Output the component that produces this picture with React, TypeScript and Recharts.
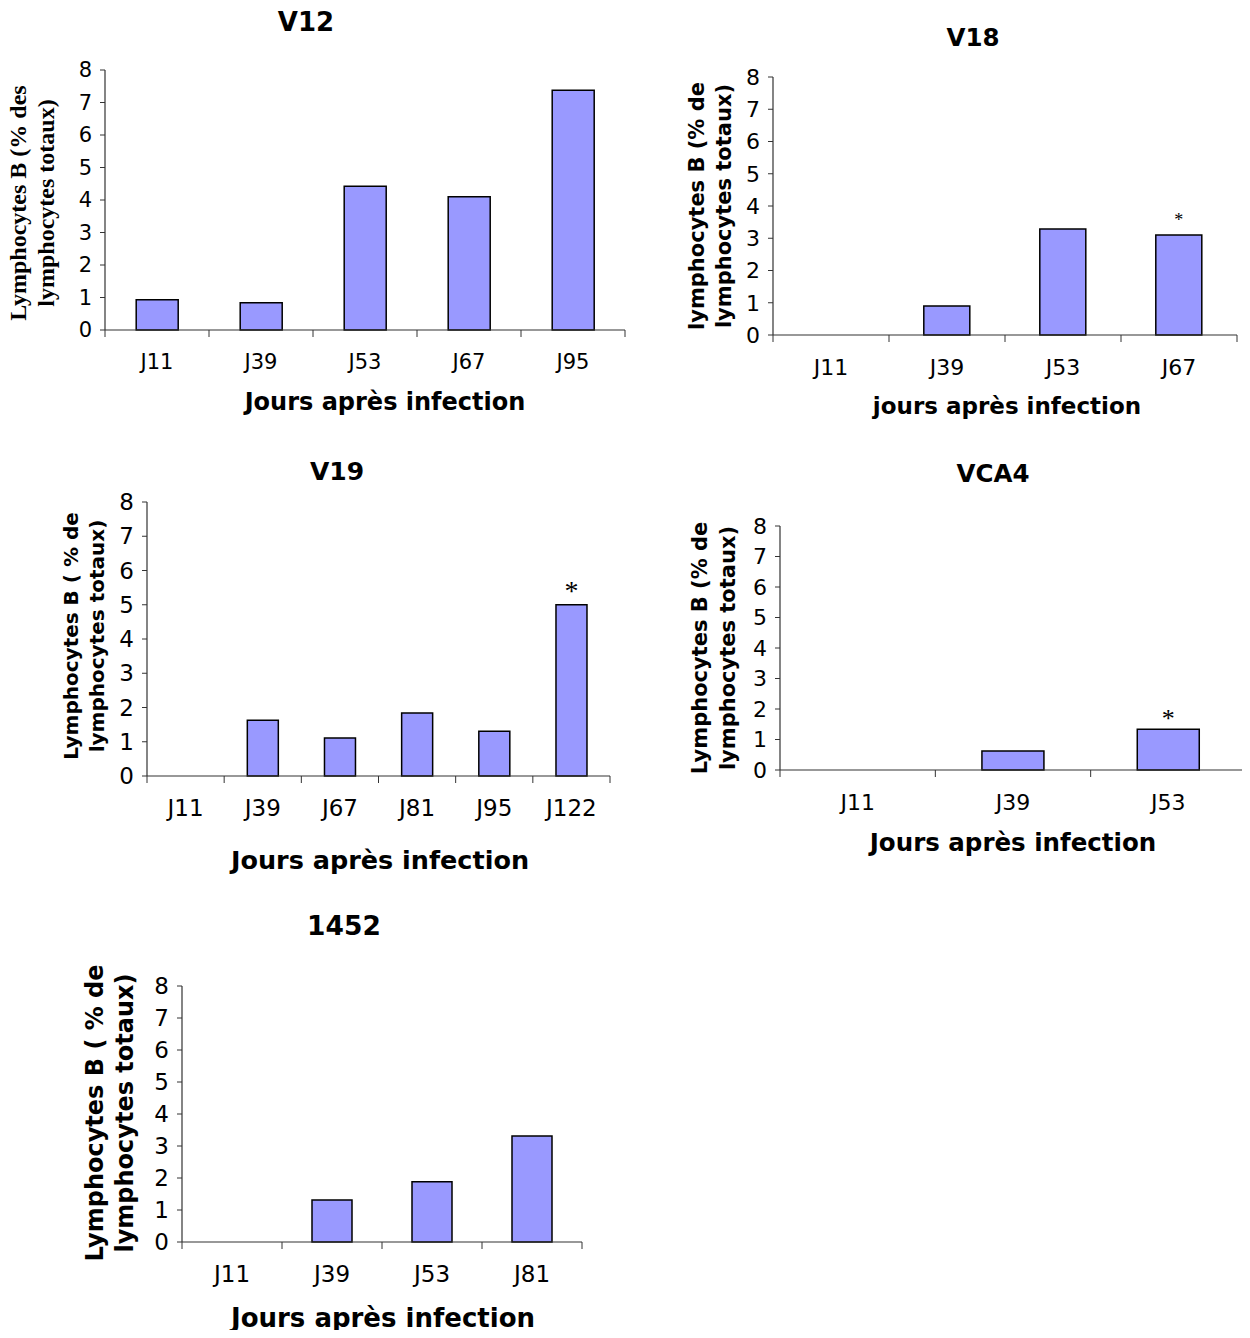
import React from 'react';
import { BarChart, Bar, XAxis, YAxis, LabelList } from 'recharts';

// ---- data ----
const v12Days = ['J11', 'J39', 'J53', 'J67', 'J95'];
const v12Values = [0.93, 0.84, 4.42, 4.1, 7.38];
const v12Marks = ['', '', '', '', ''];

const v18Days = ['J11', 'J39', 'J53', 'J67'];
const v18Values = [0, 0.9, 3.29, 3.1];
const v18Marks = ['', '', '', '*'];

const v19Days = ['J11', 'J39', 'J67', 'J81', 'J95', 'J122'];
const v19Values = [0, 1.63, 1.11, 1.84, 1.31, 5.0];
const v19Marks = ['', '', '', '', '', '*'];

const vca4Days = ['J11', 'J39', 'J53'];
const vca4Values = [0, 0.62, 1.34];
const vca4Marks = ['', '', '*'];

const s1452Days = ['J11', 'J39', 'J53', 'J81'];
const s1452Values = [0, 1.31, 1.88, 3.31];
const s1452Marks = ['', '', '', ''];

const yTicks = [0, 1, 2, 3, 4, 5, 6, 7, 8];

const SANS = '"DejaVu Sans", Verdana, sans-serif';
const SERIF = '"Liberation Serif", "Times New Roman", serif';
const AX = '#333';
const BAR_FILL = '#9999FF';

type Cfg = {
  title: string;
  days: string[];
  values: number[];
  marks: string[];
  l: number; t: number; r: number; b: number;
  titleX: number; titleY: number; titleSize: number;
  xTitle: string; xTitleX: number; xTitleY: number; xTitleSize: number;
  yLines: [string, string]; yX: [number, number]; yY: number; yFont: string; ySize: number;
  tickFont: number;
  markSize: number; markOffset: number;
};

const charts: Cfg[] = [
  {
    title: 'V12', days: v12Days, values: v12Values, marks: v12Marks,
    l: 105, t: 70, r: 625, b: 330,
    titleX: 306, titleY: 22, titleSize: 26,
    xTitle: 'Jours après infection', xTitleX: 385, xTitleY: 402, xTitleSize: 24,
    yLines: ['Lymphocytes B (% des', 'lymphocytes totaux)'], yX: [18, 46], yY: 203, yFont: SERIF, ySize: 24,
    tickFont: 21, markSize: 20, markOffset: 6,
  },
  {
    title: 'V18', days: v18Days, values: v18Values, marks: v18Marks,
    l: 773, t: 77, r: 1237, b: 335,
    titleX: 973, titleY: 38, titleSize: 24.5,
    xTitle: 'jours après infection', xTitleX: 1007, xTitleY: 406, xTitleSize: 23,
    yLines: ['lymphocytes B (% de', 'lymphocytes totaux)'], yX: [697, 724], yY: 206, yFont: SANS, ySize: 21,
    tickFont: 22, markSize: 18, markOffset: 9,
  },
  {
    title: 'V19', days: v19Days, values: v19Values, marks: v19Marks,
    l: 147, t: 502, r: 610, b: 776,
    titleX: 337, titleY: 471, titleSize: 25,
    xTitle: 'Jours après infection', xTitleX: 380, xTitleY: 861, xTitleSize: 25.5,
    yLines: ['Lymphocytes B ( % de', 'lymphocytes totaux)'], yX: [71, 97], yY: 636, yFont: SANS, ySize: 20,
    tickFont: 23, markSize: 28, markOffset: 5,
  },
  {
    title: 'VCA4', days: vca4Days, values: vca4Values, marks: vca4Marks,
    l: 780, t: 526, r: 1246, b: 770,
    titleX: 993, titleY: 474, titleSize: 24.5,
    xTitle: 'Jours après infection', xTitleX: 1013, xTitleY: 843, xTitleSize: 24.5,
    yLines: ['Lymphocytes B (% de', 'lymphocytes totaux)'], yX: [700, 728], yY: 648, yFont: SANS, ySize: 21,
    tickFont: 22, markSize: 26, markOffset: 2,
  },
  {
    title: '1452', days: s1452Days, values: s1452Values, marks: s1452Marks,
    l: 182, t: 986, r: 582, b: 1242,
    titleX: 344, titleY: 926, titleSize: 26.5,
    xTitle: 'Jours après infection', xTitleX: 383, xTitleY: 1318, xTitleSize: 26,
    yLines: ['Lymphocytes B ( % de', 'lymphocytes totaux)'], yX: [95, 125], yY: 1113, yFont: SANS, ySize: 24,
    tickFont: 23, markSize: 22, markOffset: 5,
  },
];

const centered: React.CSSProperties = {
  position: 'absolute',
  transform: 'translate(-50%, -50%)',
  whiteSpace: 'nowrap',
  lineHeight: 1,
  color: '#000',
};

function Panel({ c }: { c: Cfg }) {
  const yW = 70;
  const boxL = c.l - yW;
  const boxT = c.t - 14;
  const rightPad = 3;
  const W = c.r - boxL + rightPad;
  const H = c.b - boxT + 50;
  const n = c.days.length;
  const halfBand = (c.r - c.l) / n / 2;
  const axisY = c.b - boxT;
  const data = c.days.map((d, i) => ({ day: d, value: c.values[i], mark: c.marks[i] }));
  const hasMarks = c.marks.some((m) => m);

  // category label at the band centre, tick marks at the band boundaries (Excel style)
  const renderCatTick = (props: any) => {
    const { x, payload, index } = props;
    return (
      <g>
        <line x1={x - halfBand} x2={x - halfBand} y1={axisY} y2={axisY + 7} stroke={AX} strokeWidth={1} />
        {index === n - 1 && (
          <line x1={x + halfBand} x2={x + halfBand} y1={axisY} y2={axisY + 7} stroke={AX} strokeWidth={1} />
        )}
        <text
          x={x}
          y={axisY + 24}
          dy="0.71em"
          textAnchor="middle"
          fontFamily={SANS}
          fontSize={c.tickFont}
          fill="#000"
        >
          {payload.value}
        </text>
      </g>
    );
  };

  return (
    <>
      <div style={{ position: 'absolute', left: boxL, top: boxT }}>
        <BarChart
          width={W}
          height={H}
          data={data}
          margin={{ top: 14, right: rightPad, bottom: 0, left: 0 }}
          barCategoryGap="30%"
        >
          <XAxis
            dataKey="day"
            height={50}
            axisLine={{ stroke: AX, strokeWidth: 1.2 }}
            tickLine={false}
            interval={0}
            tick={renderCatTick}
          />
          <YAxis
            width={yW}
            domain={[0, 8]}
            ticks={yTicks}
            interval={0}
            tickSize={5}
            tickMargin={8}
            axisLine={{ stroke: AX, strokeWidth: 1.2 }}
            tickLine={{ stroke: AX, strokeWidth: 1 }}
            tick={{ fontFamily: SANS, fontSize: c.tickFont, fill: '#000' }}
          />
          <Bar dataKey="value" fill={BAR_FILL} stroke="#000" strokeWidth={1.5} isAnimationActive={false}>
            {hasMarks && (
              <LabelList
                dataKey="mark"
                position="top"
                offset={c.markOffset}
                style={{ fontFamily: SERIF, fontSize: c.markSize, fill: '#000' }}
              />
            )}
          </Bar>
        </BarChart>
      </div>
      <div style={{ ...centered, left: c.titleX, top: c.titleY, fontFamily: SANS, fontWeight: 'bold', fontSize: c.titleSize }}>
        {c.title}
      </div>
      <div style={{ ...centered, left: c.xTitleX, top: c.xTitleY, fontFamily: SANS, fontWeight: 'bold', fontSize: c.xTitleSize }}>
        {c.xTitle}
      </div>
      {c.yLines.map((line, i) => (
        <div
          key={i}
          style={{
            ...centered,
            left: c.yX[i],
            top: c.yY,
            transform: 'translate(-50%, -50%) rotate(-90deg)',
            fontFamily: c.yFont,
            fontWeight: 'bold',
            fontSize: c.ySize,
          }}
        >
          {line}
        </div>
      ))}
    </>
  );
}

export default function App() {
  return (
    <div style={{ position: 'relative', width: 1250, height: 1338, margin: -8, background: '#fff', overflow: 'hidden' }}>
      {charts.map((c) => (
        <Panel key={c.title} c={c} />
      ))}
    </div>
  );
}
